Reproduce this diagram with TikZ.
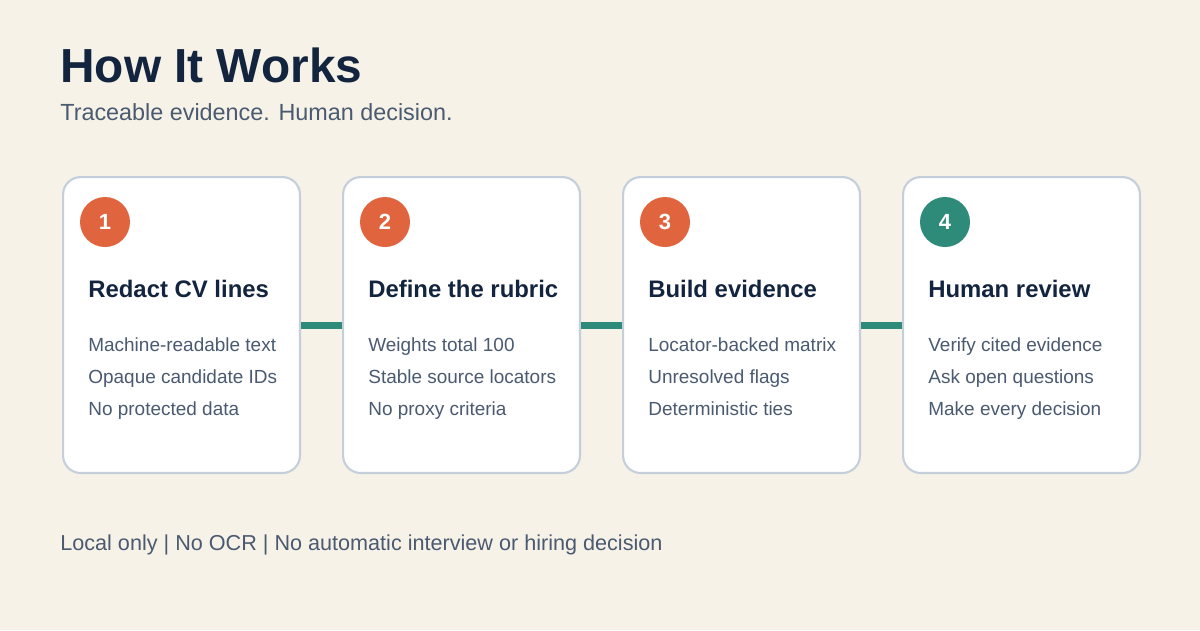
\documentclass[tikz,border=0pt]{standalone}
\usepackage{fontspec}
\setmainfont{Liberation Sans}
\usetikzlibrary{positioning}
\definecolor{bgcol}{HTML}{F7F2E8}
\definecolor{navy}{HTML}{13243F}
\definecolor{slate}{HTML}{4A5A70}
\definecolor{rust}{HTML}{E0653F}
\definecolor{teal}{HTML}{2E8B7A}
\definecolor{edgecol}{HTML}{C5CFDB}
\tikzset{
    card/.style={
           rectangle, rounded corners=10pt,
           draw=edgecol, line width=1.2pt, fill=white,
           minimum width=4.74cm, minimum height=5.92cm
           },
    badge/.style={
           circle, fill=rust, minimum size=1cm, inner sep=0pt,
           text=white, font=\bfseries\fontsize{12.5}{14}\selectfont
           },
    heading/.style={
           anchor=base west, inner sep=0pt, text=navy,
           font=\bfseries\fontsize{13.6}{16}\selectfont
           },
    item/.style={
           anchor=base west, inner sep=0pt, text=slate,
           font=\fontsize{10.8}{13}\selectfont
           },
    link/.style={
           teal, line width=4pt
           }
}
\begin{document}
\begin{tikzpicture}[x=0.02cm,y=-0.02cm]
   \fill[bgcol] (0,0) rectangle (1200,630);
   \useasboundingbox (0,0) rectangle (1200,630);
   \node[anchor=base west, inner sep=0pt, text=navy, font=\bfseries\fontsize{27.2}{32}\selectfont] (title) at (60,82) {How It Works};
   \node[anchor=base west, inner sep=0pt, text=slate, font=\fontsize{13.3}{16}\selectfont] (sub) at (60,120) {Traceable evidence. Human decision.};
   % cards
   \foreach \i/\x/\c/\head/\la/\lb/\lc in {
      1/62/rust/Redact CV lines/Machine-readable text/Opaque candidate IDs/No protected data,
      2/342/rust/Define the rubric/Weights total 100/Stable source locators/No proxy criteria,
      3/622/rust/Build evidence/Locator-backed matrix/Unresolved flags/Deterministic ties,
      4/902/teal/Human review/Verify cited evidence/Ask open questions/Make every decision}{
      \node[card, anchor=north west] (card\i) at (\x,176) {};
      \node[badge, fill=\c] (num\i) at (\x+43,222) {\i};
      \node[heading] (head\i) at (\x+26,297) {\head};
      \node[item] (a\i) at (\x+26,351) {\la};
      \node[item] (b\i) at (\x+26,383) {\lb};
      \node[item] (c\i) at (\x+26,415) {\lc};
   }
   \foreach \p/\q in {1/2,2/3,3/4}
      \draw[link] (card\p.east) -- (card\q.west);
   \node[anchor=base west, inner sep=0pt, text=slate, font=\fontsize{12.3}{15}\selectfont] (foot) at (60,550) {Local only | No OCR | No automatic interview or hiring decision};
\end{tikzpicture}
\end{document}
